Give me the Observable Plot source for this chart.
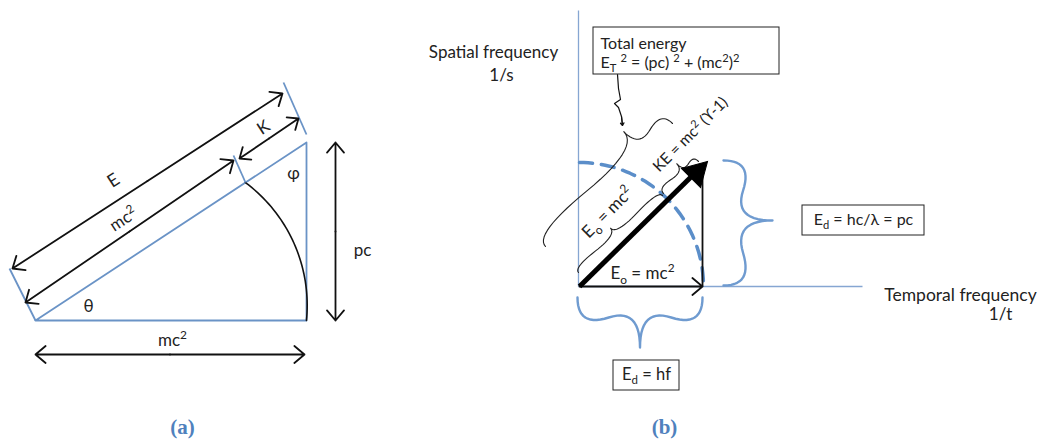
<!DOCTYPE html>
<html><head><meta charset="utf-8">
<script src="https://cdn.jsdelivr.net/npm/d3@7"></script>
<script src="https://cdn.jsdelivr.net/npm/@observablehq/plot@0.6"></script>
<style>html,body{margin:0;padding:0;background:#fff} svg{display:block}</style>
</head><body><div id="chart"></div>
<script>
// ===== Panel (a): energy triangle (diagram coordinates, px) =====
const triangleA = [[35,320],[306,320],[306,142],[35,320]];
// arc from the base corner up to the hypotenuse (circle through 3 read points)
const arcA = {cx:153.5, cy:305, r:153.2, fromX:306, fromY:320, toX:245, toY:182};
const blueTicksA = [
  {x1:9, y1:268, x2:35, y2:320},
  {x1:283, y1:82, x2:306, y2:134},
  {x1:233, y1:155, x2:245, y2:182}
];
const arrowsA = [
  {x1:12, y1:268, x2:282, y2:93},   // E
  {x1:25, y1:302, x2:233, y2:160},  // mc²
  {x1:239, y1:158, x2:298, y2:118}, // K
  {x1:335, y1:142, x2:335, y2:320}, // pc
  {x1:35, y1:354, x2:304, y2:354}   // mc² (base)
];
const labelsA = [
  {x:113, y:180, text:"E", rotate:-33, size:18},
  {x:123, y:219, text:"mc^{2}", rotate:-33, size:17},
  {x:263, y:127, text:"K", rotate:-33, size:17},
  {x:293, y:173, text:"φ", rotate:0, size:17},
  {x:88, y:306, text:"θ", rotate:0, size:17},
  {x:362, y:250, text:"pc", rotate:0, size:17},
  {x:172, y:340, text:"mc^{2}", rotate:0, size:17}
];

// ===== Panel (b): frequency space diagram =====
const axesB = [
  {x1:578, y1:10, x2:578, y2:286},
  {x1:578, y1:286, x2:862, y2:286}
];
const thickArrowB = [{x1:579, y1:286, x2:692, y2:175}];
const thickHeadB = [{x:696, y:172, rotate:45}];
const thinArrowB = [{x1:579, y1:286, x2:702, y2:286}];
const sideLineB = [{x1:702, y1:286, x2:702, y2:165}];
const dashedArcB = {cx:579, cy:286, r:124};
const squiggleB = [[617,74],[618,88],[620,99],[614,103],[618,107],[621,116],[622,125]];
const bracesBlack = [
  {ax:545, ay:246, bx:672, by:123, t:0.77, w:28},  // total energy
  {ax:578, ay:272, bx:662, by:195, t:0.47, w:11},  // E0 = mc²
  {ax:663, ay:193, bx:698, by:161, t:0.63, w:13}   // KE
];
const bracesBlue = [
  {ax:723, ay:160, bx:723, by:285, t:0.48, w:49},  // Ed = pc
  {ax:702, ay:297, bx:577, by:297, t:0.50, w:50}   // Ed = hf
];
const boxesB = [
  {x1:593, y1:27, x2:779, y2:74},
  {x1:802, y1:205, x2:924, y2:235},
  {x1:613, y1:360, x2:679, y2:390}
];
const labelsBMiddle = [
  {x:493, y:52, text:"Spatial frequency", rotate:0, size:17},
  {x:501, y:75, text:"1/s", rotate:0, size:17},
  {x:607, y:212, text:"E_{o} = mc^{2}", rotate:-45, size:17},
  {x:690, y:134, text:"KE = mc^{2} (ϒ-1)", rotate:-45, size:15.5},
  {x:642, y:273, text:"E_{o} = mc^{2}", rotate:0, size:17},
  {x:863, y:219, text:"E_{d} = hc/λ = pc", rotate:0, size:16},
  {x:646, y:374, text:"E_{d} = hf", rotate:0, size:16.5},
  {x:960, y:295, text:"Temporal frequency", rotate:0, size:17.5},
  {x:1000, y:314, text:"1/t", rotate:0, size:17}
];
const labelsBStart = [
  {x:600, y:43, text:"Total energy", size:16},
  {x:600, y:62, text:"E_{T} ^{2} = (pc) ^{2} + (mc^{2})^{2}", size:16}
];
const panelLabels = [
  {x:182, y:427, text:"(a)"},
  {x:664, y:427, text:"(b)"}
];

// ===== geometry helpers =====
function bracePoints(d, q = 0.6, n = 14) {
  const dx = d.bx - d.ax, dy = d.by - d.ay, L = Math.hypot(dx, dy);
  const ux = dx / L, uy = dy / L, nx = uy, ny = -ux;
  const P = ([s, h]) => [d.ax + ux * s + nx * h, d.ay + uy * s + ny * h];
  const quad = (p0, p1, p2) => d3.range(n + 1).map(i => {
    const k = i / n;
    return [(1-k)*(1-k)*p0[0] + 2*(1-k)*k*p1[0] + k*k*p2[0],
            (1-k)*(1-k)*p0[1] + 2*(1-k)*k*p1[1] + k*k*p2[1]];
  });
  const w = d.w, a = d.t * L, b = L - a;
  const pts = [
    ...quad([0,0],[0,q*w],[a/2,(1-q)*w]),
    ...quad([a/2,(1-q)*w],[a,(2-3*q)*w],[a,w]).slice(1),
    ...quad([a,w],[a,(2-3*q)*w],[a+b/2,(1-q)*w]).slice(1),
    ...quad([a+b/2,(1-q)*w],[L,q*w],[L,0]).slice(1)
  ];
  return pts.map(P);
}
const braceRows = (list, group) => list.flatMap((d, i) =>
  bracePoints(d).map(([x, y]) => ({x, y, z: group + i})));
const arcRowsB = d3.range(0, 91, 2).map(deg => ({
  x: dashedArcB.cx + dashedArcB.r * Math.sin(deg * Math.PI / 180),
  y: dashedArcB.cy - dashedArcB.r * Math.cos(deg * Math.PI / 180)
}));
const a0 = Math.atan2(arcA.fromY - arcA.cy, arcA.fromX - arcA.cx);
const a1 = Math.atan2(arcA.toY - arcA.cy, arcA.toX - arcA.cx);
const arcRowsA = d3.range(41).map(i => {
  const a = a0 + (a1 - a0) * i / 40;
  return {x: arcA.cx + arcA.r * Math.cos(a), y: arcA.cy + arcA.r * Math.sin(a)};
});
// double-headed arrows: two arrows from the midpoint to each end
const doubleRows = arrowsA.flatMap(d => {
  const mx = (d.x1 + d.x2) / 2, my = (d.y1 + d.y2) / 2;
  return [{x1: mx, y1: my, x2: d.x1, y2: d.y1}, {x1: mx, y1: my, x2: d.x2, y2: d.y2}];
});
const sq = squiggleB.length;
const squiggleHead = [{x1: squiggleB[sq-2][0], y1: squiggleB[sq-2][1], x2: squiggleB[sq-1][0], y2: squiggleB[sq-1][1]}];

const BLUE = "#6a93c6";
const FONT = "Lato, 'Open Sans', sans-serif";

const chart = Plot.plot({
  width: 1037, height: 441,
  margin: 0,
  x: {domain: [0, 1037], range: [0, 1037], axis: null},
  y: {domain: [0, 441], range: [0, 441], axis: null},
  style: {background: "#fff", fontFamily: FONT},
  marks: [
    // ---- panel (a)
    Plot.line(triangleA, {x: d => d[0], y: d => d[1], stroke: BLUE, strokeWidth: 1.8}),
    Plot.line(arcRowsA, {x: "x", y: "y", stroke: "#111", strokeWidth: 1.6}),
    Plot.link(blueTicksA, {x1: "x1", y1: "y1", x2: "x2", y2: "y2", stroke: BLUE, strokeWidth: 1.8}),
    Plot.arrow(doubleRows, {x1: "x1", y1: "y1", x2: "x2", y2: "y2", stroke: "#111", strokeWidth: 1.8,
      headLength: 11, headAngle: 80}),
    Plot.text(labelsA, {x: "x", y: "y", text: "text", rotate: "rotate", fontSize: "size", fill: "#222"}),
    // ---- panel (b)
    Plot.link(axesB, {x1: "x1", y1: "y1", x2: "x2", y2: "y2", stroke: "#86a6d2", strokeWidth: 1.3}),
    Plot.line(arcRowsB, {x: "x", y: "y", stroke: "#5b8ec9", strokeWidth: 3.5, strokeDasharray: "13 9"}),
    Plot.line(braceRows(bracesBlue, "blue"), {x: "x", y: "y", z: "z", stroke: "#6f9bd0", strokeWidth: 2.4}),
    Plot.line(braceRows(bracesBlack, "black"), {x: "x", y: "y", z: "z", stroke: "#222", strokeWidth: 1.1}),
    Plot.link(sideLineB, {x1: "x1", y1: "y1", x2: "x2", y2: "y2", stroke: "#111", strokeWidth: 1.8}),
    Plot.arrow(thinArrowB, {x1: "x1", y1: "y1", x2: "x2", y2: "y2", stroke: "#111", strokeWidth: 1.8,
      headLength: 11, headAngle: 80}),
    Plot.link(thickArrowB, {x1: "x1", y1: "y1", x2: "x2", y2: "y2", stroke: "#000", strokeWidth: 5}),
    Plot.dot(thickHeadB, {x: "x", y: "y", rotate: "rotate", symbol: "triangle", r: 10, fill: "#000", stroke: "#000", strokeWidth: 1}),
    Plot.line(squiggleB, {x: d => d[0], y: d => d[1], stroke: "#111", strokeWidth: 1.2}),
    Plot.arrow(squiggleHead, {x1: "x1", y1: "y1", x2: "x2", y2: "y2", stroke: "#111", strokeWidth: 1.2,
      headLength: 7, headAngle: 70}),
    Plot.rect(boxesB, {x1: "x1", y1: "y1", x2: "x2", y2: "y2", fill: "#fff", stroke: "#222", strokeWidth: 1}),
    Plot.text(labelsBMiddle, {x: "x", y: "y", text: "text", rotate: "rotate", fontSize: "size", fill: "#222"}),
    Plot.text(labelsBStart, {x: "x", y: "y", text: "text", fontSize: "size", textAnchor: "start", fill: "#222"}),
    // ---- panel captions
    Plot.text(panelLabels, {x: "x", y: "y", text: "text", fontSize: 21, fontWeight: "bold",
      fontFamily: "'Liberation Serif', 'DejaVu Serif', serif", fill: "#4f81bd"})
  ]
});
document.getElementById("chart").appendChild(chart);

// turn _{..} / ^{..} markup into real sub/superscript tspans
function richify(svg) {
  svg.querySelectorAll("text").forEach(t => {
    const s = t.textContent;
    if (!/[_^]\{/.test(s)) return;
    const fs = parseFloat(getComputedStyle(t).fontSize) || 16;
    t.textContent = "";
    const re = /([_^])\{([^}]*)\}/g;
    let last = 0, m, shift = 0;
    const add = (str, kind) => {
      if (!str) return;
      const sp = document.createElementNS("http://www.w3.org/2000/svg", "tspan");
      const target = kind === "_" ? fs * 0.28 : kind === "^" ? -fs * 0.38 : 0;
      const dy = target - shift; shift = target;
      if (dy) sp.setAttribute("dy", dy.toFixed(2));
      if (kind) sp.setAttribute("font-size", (fs * 0.7).toFixed(1));
      sp.textContent = str;
      t.appendChild(sp);
    };
    while ((m = re.exec(s))) { add(s.slice(last, m.index), null); add(m[2], m[1]); last = re.lastIndex; }
    add(s.slice(last), null);
  });
}
richify(chart);
</script></body></html>
